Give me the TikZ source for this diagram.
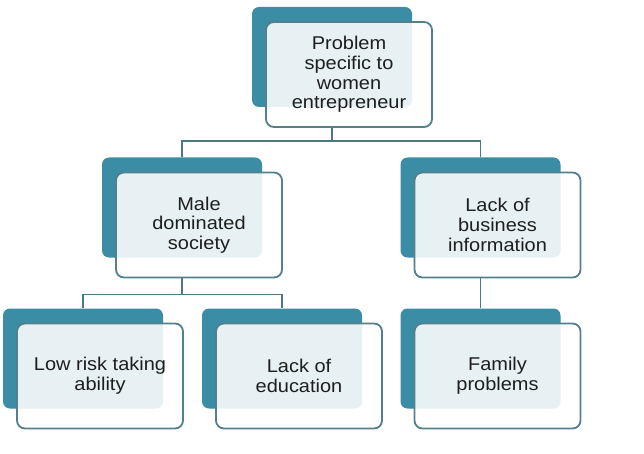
\documentclass[tikz,border=0pt]{standalone}
\usepackage{fontspec}
\setmainfont[FakeStretch=1.08]{Liberation Sans}
\usetikzlibrary{calc}
\definecolor{teal1}{RGB}{58,141,164}
\definecolor{edge1}{RGB}{84,128,140}
\definecolor{conn1}{RGB}{76,120,132}
\definecolor{txt1}{RGB}{30,30,30}
\begin{document}
\begin{tikzpicture}[x=1pt,y=-1pt,
 backbox/.style={rectangle, rounded corners=7pt, fill=teal1, minimum width=160pt, minimum height=100pt, inner sep=0pt},
 frontbox/.style={rectangle, rounded corners=8pt, draw=edge1, line width=1.8pt, fill=white, fill opacity=0.88, text opacity=1, text=txt1, minimum width=166pt, minimum height=105pt, align=center, font=\fontsize{18.5}{19.7}\selectfont, inner sep=0pt},
 conn/.style={draw=conn1, line width=1.8pt}]
\fill[white] (0,0) rectangle (644,454);
\useasboundingbox (0,0) rectangle (644,454);
% back boxes
\node[backbox] (topd) at (332,57) {};
\node[backbox] (mld) at (182,207.5) {};
\node[backbox] (mrd) at (480.5,207.5) {};
\node[backbox] (bld) at (83,358.5) {};
\node[backbox] (bmd) at (282,358.5) {};
\node[backbox] (brd) at (480.5,358.5) {};
% front boxes
\node[frontbox] (topf) at ($(topd)+(17,17.5)$) {Problem\\specific to\\women\\entrepreneur};
\node[frontbox] (mlf) at ($(mld)+(17,17.5)$) {Male\\dominated\\society};
\node[frontbox] (mrf) at ($(mrd)+(17,17.5)$) {Lack of\\business\\information};
\node[frontbox] (blf) at ($(bld)+(17,17.5)$) {Low risk taking\\ability};
\node[frontbox] (bmf) at ($(bmd)+(17,17.5)$) {Lack of\\education};
\node[frontbox] (brf) at ($(brd)+(17,17.5)$) {Family\\problems};
% connectors
\coordinate (bus1) at ($(topd.center |- topf.south)+(0,13)$);
\draw[conn] (topd.center |- topf.south) -- (bus1);
\draw[conn] (mld.north) |- (bus1) -| (mrd.north);
\coordinate (bus2) at ($(mld.center |- mlf.south)+(0,16)$);
\draw[conn] (mld.center |- mlf.south) -- (bus2);
\draw[conn] (bld.north) |- (bus2) -| (bmd.north);
\draw[conn] (mrd.center |- mrf.south) -- (brd.north);
\end{tikzpicture}
\end{document}
